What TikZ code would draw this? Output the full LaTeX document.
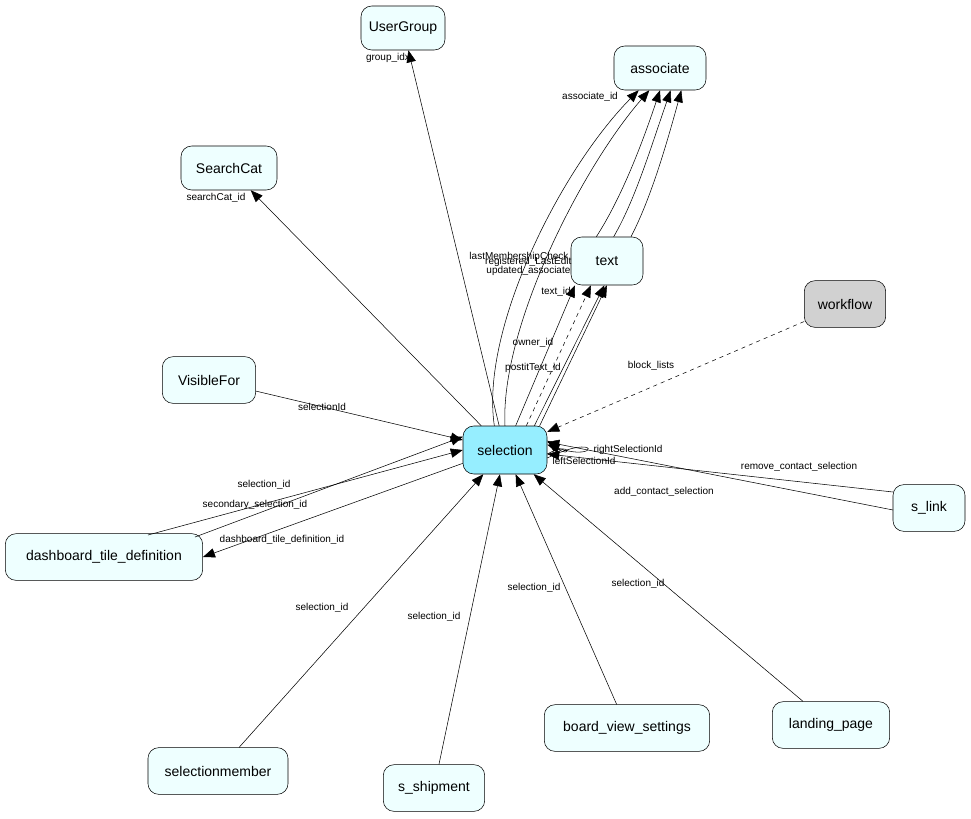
\documentclass[tikz,border=0pt]{standalone}
\usepackage{fontspec}
\setmainfont{Liberation Sans}
\usetikzlibrary{arrows.meta}
\definecolor{lc}{RGB}{238,255,255}
\definecolor{sc}{RGB}{150,238,255}
\begin{document}
\begin{tikzpicture}[x=0.75pt,y=-0.75pt,
 n/.style={draw=black,rounded corners=8pt,fill=lc,font=\fontsize{10.5}{12}\selectfont,inner sep=0pt},
 e/.style={draw=black,-{Triangle[length=9pt,width=7pt]}},
 l/.style={font=\fontsize{7.5}{9}\selectfont,inner sep=1pt}]
\useasboundingbox (0,0) rectangle (971,818);
\node[n,minimum width=63pt,minimum height=33pt] (ug) at (403,28) {UserGroup};
\node[n,minimum width=69pt,minimum height=33pt] (as) at (660,68) {associate};
\node[n,minimum width=72pt,minimum height=33pt] (sc) at (229,168) {SearchCat};
\node[n,minimum width=54pt,minimum height=36pt] (tx) at (607,261) {text};
\node[n,fill=black!18,minimum width=61pt,minimum height=35pt] (wf) at (845,304) {workflow};
\node[n,minimum width=70pt,minimum height=35pt] (vf) at (209,380) {VisibleFor};
\node[n,fill=sc,minimum width=63pt,minimum height=36pt] (se) at (505,450) {selection};
\node[n,minimum width=54pt,minimum height=35pt] (sl) at (929,508) {s\_link};
\node[n,minimum width=148pt,minimum height=35pt] (dt) at (104,557) {dashboard\_tile\_definition};
\node[n,minimum width=124pt,minimum height=35pt] (bv) at (627,728) {board\_view\_settings};
\node[n,minimum width=88pt,minimum height=35pt] (lp) at (831,725) {landing\_page};
\node[n,minimum width=105pt,minimum height=35pt] (sm) at (218,771) {selectionmember};
\node[n,minimum width=76pt,minimum height=35pt] (ss) at (434,788) {s\_shipment};
\coordinate (dA) at (148,535);
\coordinate (dB) at (195,537);
\coordinate (sA) at (893,492);
\coordinate (sB) at (893,510);
% edges
\draw[e] (se) -- (ug);
\node[l] at (388,58) {group\_idx};
\draw[e] (se) -- (sc);
\node[l] at (216,198) {searchCat\_id};
\draw[e] (vf) -- (se);
\node[l] at (322,407) {selectionId};
\draw[e,dashed] (wf) -- (se);
\node[l] at (651,366) {block\_lists};
\draw[e] (sA) -- ([yshift=-3]se.east);
\node[l] at (799,467) {remove\_contact\_selection};
\draw[e] (sB) -- ([yshift=6]se.east);
\node[l] at (664,492) {add\_contact\_selection};
\draw[e] (dA) -- ([yshift=0]se.west);
\node[l] at (264,485) {selection\_id};
\draw[e] (dB) -- ([yshift=10]se.west);
\node[l] at (255,505) {secondary\_selection\_id};
\draw[e] ([yshift=-10]se.west) -- (dt.east);
\node[l] at (282,540) {dashboard\_tile\_definition\_id};
\draw[e] (sm) -- (se);
\node[l] at (322,608) {selection\_id};
\draw[e] (ss) -- (se);
\node[l] at (434,617) {selection\_id};
\draw[e] (bv) -- (se);
\node[l] at (534,588) {selection\_id};
\draw[e] (lp) -- (se);
\node[l] at (638,584) {selection\_id};
% self loops
\draw[e] ([yshift=-6]se.east) .. controls (600,432) and (600,462) .. ([yshift=4]se.east);
\node[l,anchor=west] at (592,450) {rightSelectionId};
\draw[e] ([yshift=-3]se.east) .. controls (572,440) and (572,460) .. ([yshift=7]se.east);
\node[l,anchor=west] at (551,461) {leftSelectionId};
% to associate
\draw[e] ([xshift=-8]se.north) .. controls (480,330) and (560,170) .. ([xshift=-16]as.south);
\draw[e] ([xshift=0]se.north) .. controls (500,330) and (580,170) .. ([xshift=-8]as.south);
\draw[e] ([xshift=-8]tx.north) .. controls (620,200) and (640,150) .. ([xshift=0]as.south);
\draw[e] ([xshift=5]tx.north) .. controls (635,200) and (650,150) .. ([xshift=8]as.south);
\draw[e] ([xshift=18]tx.north) .. controls (650,200) and (665,150) .. ([xshift=16]as.south);
\node[l] at (590,97) {associate\_id};
\node[l,anchor=east] at (570,257) {lastMembershipCheck};
\node[l,anchor=east,fill=white,fill opacity=0,text opacity=1] at (573,262) {registered\_LastEdit};
\node[l,anchor=east] at (572,271) {updated\_associate};
% to text
\draw[e] ([xshift=8]se.north) -- ([xshift=-24]tx.south);
\node[l] at (556,292) {text\_id};
\draw[e,dashed] ([xshift=16]se.north) -- ([xshift=-12]tx.south);
\draw[e] ([xshift=22]se.north) -- ([xshift=-2]tx.south);
\draw[e] ([xshift=26]se.north) -- ([xshift=0]tx.south);
\node[l] at (533,343) {owner\_id};
\node[l] at (533,368) {postitText\_id};
\end{tikzpicture}
\end{document}
